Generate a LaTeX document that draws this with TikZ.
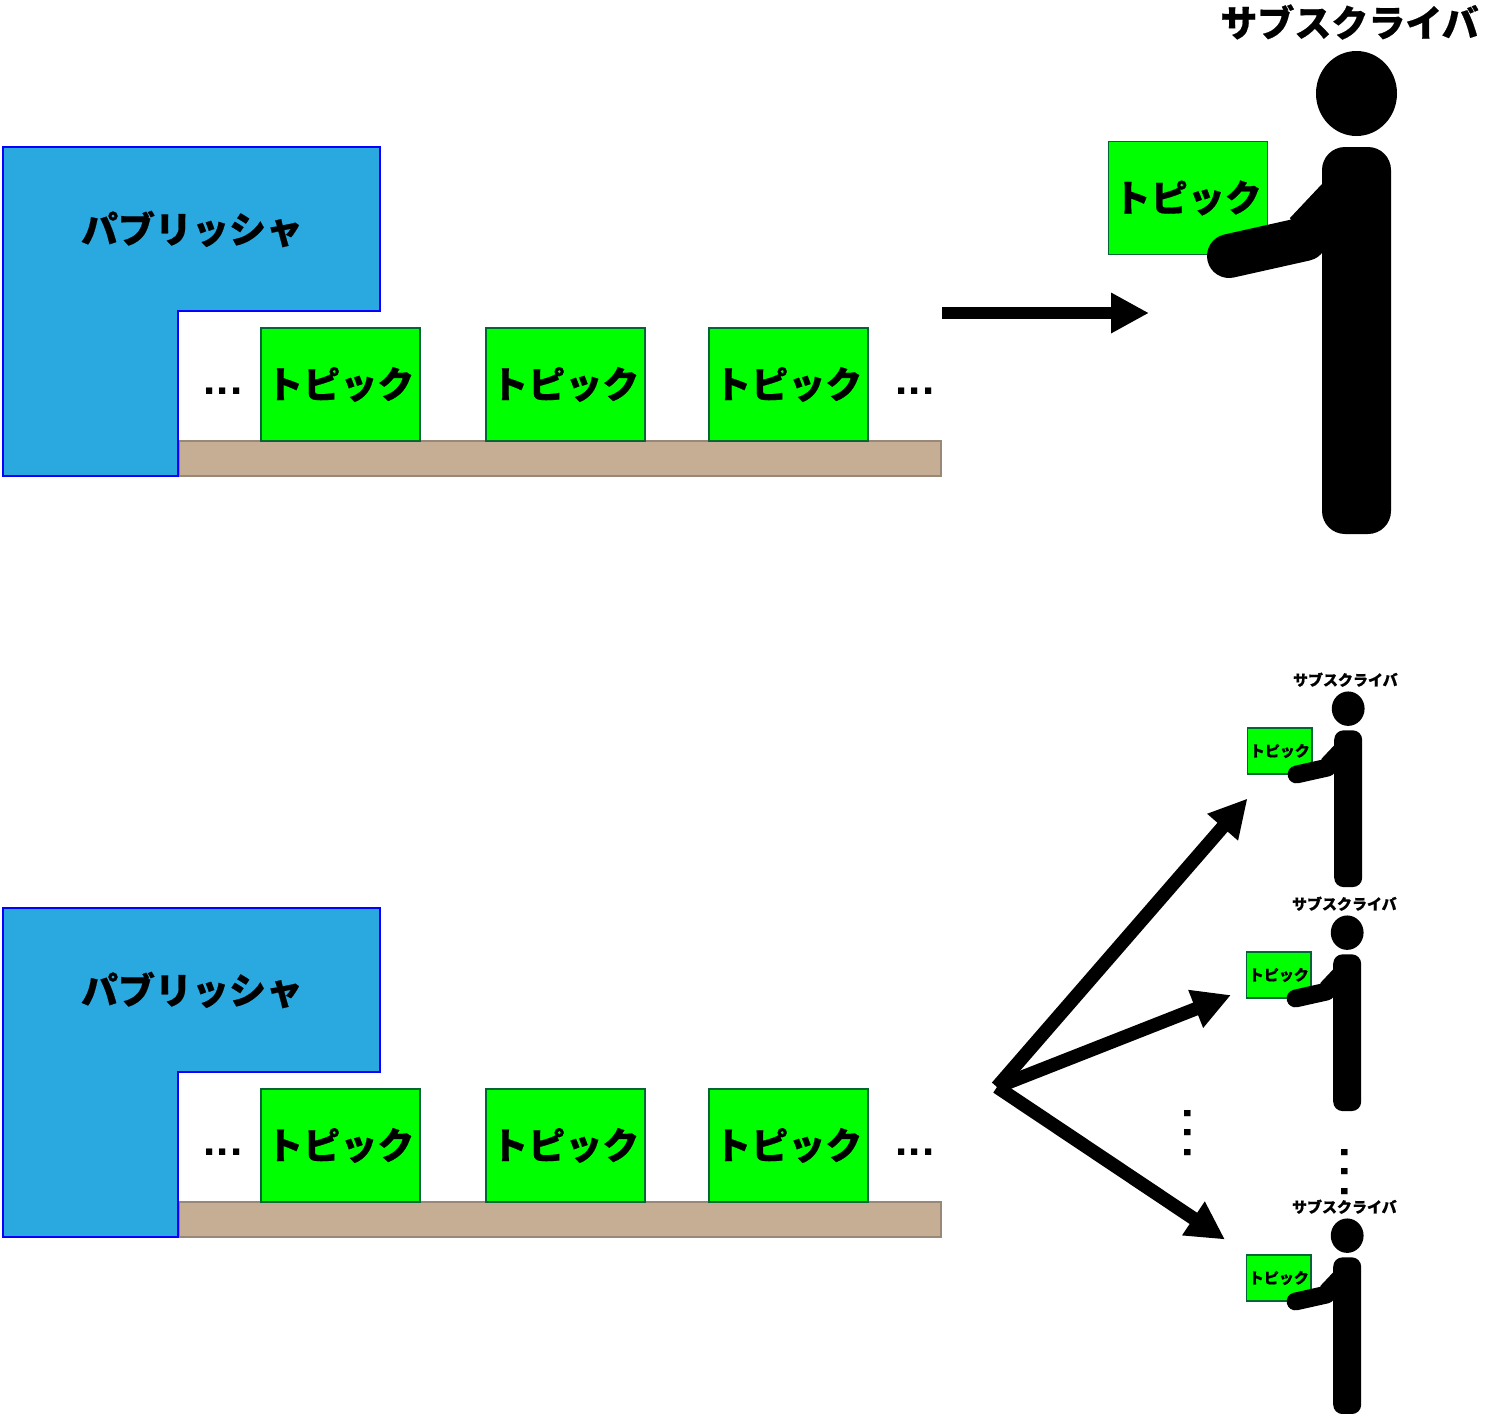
\documentclass[tikz,border=0pt]{standalone}
\usepackage{fontspec}
\usetikzlibrary{arrows.meta}
\setmainfont{Noto Sans CJK JP}[BoldFeatures={FakeBold=.5}]
\newfontfamily\tightdots{Liberation Sans}[LetterSpace=3]
\newfontfamily\widedots{Liberation Sans}[LetterSpace=16.5]
\definecolor{pubblue}{HTML}{2AA9E1}
\definecolor{publine}{HTML}{0000FF}
\definecolor{beltfill}{HTML}{C6AE95}
\definecolor{beltline}{HTML}{998877}
\definecolor{topicfill}{HTML}{00FF00}
\definecolor{topicline}{HTML}{006633}
\tikzset{
  topicbox/.style={draw=topicline,fill=topicfill,line width=.75pt,minimum width=79.5pt,minimum height=56.5pt,inner sep=0pt,font=\fontsize{18.5}{18.5}\selectfont\bfseries},
  bigtext/.style={font=\fontsize{18.5}{18.5}\selectfont\bfseries,inner sep=0pt},
  dotstext/.style={font=\fontsize{22}{22}\selectfont\bfseries\tightdots,inner sep=0pt},
  widedotstext/.style={font=\fontsize{22}{22}\selectfont\bfseries\widedots,inner sep=0pt,rotate=-90},
  flowarrow/.style={line width=6pt,-{Triangle[length=19pt,width=19pt]}},
  fanarrow/.style={flowarrow,line width=6.75pt},
}
% one line with conveyor: publisher, belt and the three topics
\newcommand{\lineblock}[2]{
  \begin{scope}[yshift=-#2*.5pt]
    \fill[beltfill,draw=beltline,line width=.75pt] (179,441) rectangle (941,476);
    \filldraw[fill=pubblue,draw=publine,line width=.75pt] (3,147)--(380,147)--(380,311)--(178,311)--(178,476)--(3,476)--cycle;
    \node[bigtext] (#1pub) at (192,229) {パブリッシャ};
    \node[topicbox] (#1a) at (340.3,384.5) {トピック};
    \node[topicbox] (#1b) at (565.3,384.5) {トピック};
    \node[topicbox] (#1c) at (788.3,384.5) {トピック};
    \node[dotstext] (#1left) at (223,391.5) {...};
    \node[dotstext] (#1right) at (915,391.5) {...};
  \end{scope}
}
% subscriber figure, drawn at the size of the top one and scaled by #4
\newcommand{\subscriber}[4]{
  \begin{scope}[shift={(#2,#3)},scale=#4,transform shape]
    \node[bigtext] (#1name) at (1349.5,22) {サブスクライバ};
    \node[topicbox] (#1topic) at (1187.8,198) {トピック};
    \fill (1356.5,93.5) ellipse [x radius=40.5,y radius=42.5];
    \fill[rounded corners=#4*11.5pt] (1322,147) rectangle (1391,534);
    \fill (1322,184)--(1290,218)--(1310,260)--(1324,248)--cycle;
    \draw[line width=#4*22pt,line cap=round] (1229,256)--(1305,239);
  \end{scope}
}
\begin{document}
\begin{tikzpicture}[x=.5pt,y=-.5pt]
\useasboundingbox (0,0) rectangle (1512,1414);
\lineblock{up}{0}
\lineblock{low}{761}
\subscriber{main}{0}{0}{1}
\subscriber{suba}{798.8}{670.8}{.405}
\subscriber{subb}{797.8}{894.8}{.405}
\subscriber{subc}{797.8}{1197.8}{.405}
\node[widedotstext] (gapdots) at (1188,1133) {...};
\node[widedotstext] (subdots) at (1345,1172) {...};
% arrows leave from one point in the lower row
\coordinate (onestart) at (942,313);
\coordinate (oneend) at (1149,313);
\coordinate (fanstart) at (997,1087);
\coordinate (fana) at (1247.5,798.5);
\coordinate (fanb) at (1231,995);
\coordinate (fanc) at (1225,1239.5);
\draw[flowarrow] (onestart)--(oneend);
\draw[fanarrow] (fanstart)--(fana);
\draw[fanarrow] (fanstart)--(fanb);
\draw[fanarrow] (fanstart)--(fanc);
\end{tikzpicture}
\end{document}
